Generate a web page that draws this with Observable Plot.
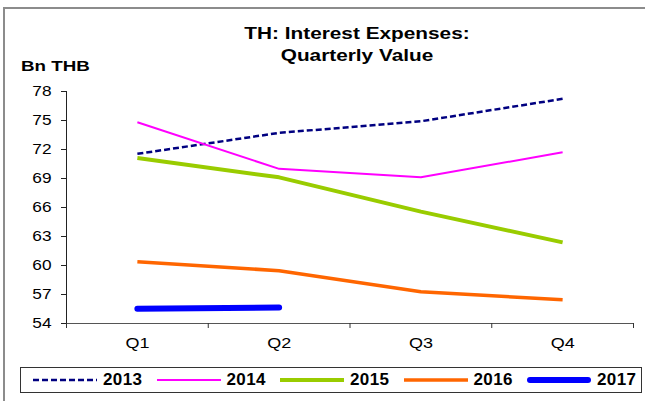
<!DOCTYPE html>
<html>
<head>
<meta charset="utf-8">
<script src="https://cdn.jsdelivr.net/npm/d3@7"></script>
<script src="https://cdn.jsdelivr.net/npm/@observablehq/plot@0.6"></script>
<style>
  html, body { margin: 0; padding: 0; background: #fff; }
  #wrap { position: relative; width: 645px; height: 401px; overflow: hidden; font-family: Arial, "Liberation Sans", sans-serif; color: #000; }
  #frame { position: absolute; left: 3px; top: 7px; width: 700px; height: 450px; border-left: 2px solid #8c8c8c; border-top: 2px solid #8c8c8c; }
  #title { position: absolute; left: 357px; top: 22px; transform: translateX(-50%) scaleX(1.26); text-align: center; font-weight: bold; font-size: 16.5px; line-height: 22px; white-space: nowrap; }
  #unit { position: absolute; left: 21px; top: 57px; transform-origin: left top; transform: scaleX(1.25); font-weight: bold; font-size: 15px; line-height: 17px; white-space: nowrap; }
  #chart { position: absolute; left: 0; top: 0; }
  #legend { position: absolute; left: 20px; top: 367px; width: 622px; height: 26px; box-sizing: border-box; border: 1px solid #333; background: #fff; display: flex; align-items: center; padding-left: 12px; }
  .item { display: flex; align-items: center; width: 123.5px; flex: none; }
  .item svg { flex: none; margin-right: 6px; }
  .item span { font-weight: bold; font-size: 17px; letter-spacing: 0.4px; }
</style>
</head>
<body>
<div id="wrap">
  <div id="frame"></div>
  <div id="chart"></div>
  <div id="title">TH: Interest Expenses:<br>Quarterly Value</div>
  <div id="unit">Bn THB</div>
  <div id="legend"></div>
</div>
<script>
// ---- data ----
const quarters = ["Q1", "Q2", "Q3", "Q4"];
const years = ["2013", "2014", "2015", "2016", "2017"];
const v2013 = [71.55, 73.72, 74.92, 77.24];
const v2014 = [74.82, 70.0, 69.12, 71.71];
const v2015 = [71.13, 69.12, 65.57, 62.39];
const v2016 = [60.39, 59.46, 57.28, 56.45];
const v2017 = [55.52, 55.66];
const yTicks = [54, 57, 60, 63, 66, 69, 72, 75, 78];

// ---- styles ----
const seriesValues = [v2013, v2014, v2015, v2016, v2017];
const colors = ["#000080", "#FF00FF", "#99CC00", "#FF6600", "#0000FF"];
const widths = [2.5, 2, 4, 3.5, 6];
const dashes = ["6,3", null, null, null, null];
const caps = ["butt", "butt", "butt", "butt", "round"];

const rows = years.flatMap((yr, i) =>
  seriesValues[i].map((v, j) => ({ year: yr, q: j + 1, value: v }))
);
const qIdx = quarters.map((_, i) => i + 1);
const bounds = [0.5, ...qIdx.map(i => i + 0.5)];

const marks = [
  Plot.ruleX([0.5], { y1: 54, y2: 78, stroke: "#222", strokeWidth: 1 }),
  Plot.ruleY([54], { stroke: "#555", strokeWidth: 1.2 }),
  Plot.axisY({ ticks: yTicks, tickSize: 5, tickPadding: 10, label: null, stroke: "#222", fontSize: 15 }),
  Plot.axisX({ ticks: bounds, tickSize: 5, tickFormat: () => "", label: null, stroke: "#333" }),
  Plot.axisX({ ticks: qIdx, tickSize: 0, tickPadding: 14, tickFormat: d => quarters[d - 1], label: null, fontSize: 15 })
];
years.forEach((yr, i) => {
  marks.push(Plot.line(rows.filter(d => d.year === yr), {
    x: "q", y: "value",
    stroke: colors[i], strokeWidth: widths[i],
    strokeDasharray: dashes[i] || undefined,
    strokeLinecap: caps[i], strokeLinejoin: "round"
  }));
});

const chart = Plot.plot({
  width: 645,
  height: 401,
  marginLeft: 66,
  marginRight: 12,
  marginTop: 91,
  marginBottom: 78,
  x: { type: "linear", domain: [0.5, 4.5] },
  y: { domain: [54, 78] },
  style: { fontFamily: "Arial, 'Liberation Sans', sans-serif", fontSize: "15px", color: "#000", background: "transparent", overflow: "visible" },
  marks
});
document.getElementById("chart").appendChild(chart);

// widen the tick labels a little, as in the reference
function stretch(sel, k) {
  chart.querySelectorAll(sel).forEach(t => {
    const w = t.getComputedTextLength();
    if (w > 0) {
      t.setAttribute("textLength", (w * k).toFixed(1));
      t.setAttribute("lengthAdjust", "spacingAndGlyphs");
    }
  });
}
stretch('g[aria-label="y-axis tick label"] text', 1.15);
stretch('g[aria-label="x-axis tick label"] text', 1.2);

// ---- legend ----
const legend = document.getElementById("legend");
years.forEach((yr, i) => {
  const item = document.createElement("div");
  item.className = "item";
  const ns = "http://www.w3.org/2000/svg";
  const svg = document.createElementNS(ns, "svg");
  svg.setAttribute("width", 64);
  svg.setAttribute("height", 10);
  const line = document.createElementNS(ns, "line");
  const pad = caps[i] === "round" ? widths[i] / 2 : 0;
  line.setAttribute("x1", pad);
  line.setAttribute("x2", 64 - pad);
  line.setAttribute("y1", 5);
  line.setAttribute("y2", 5);
  line.setAttribute("stroke", colors[i]);
  line.setAttribute("stroke-width", widths[i]);
  line.setAttribute("stroke-linecap", caps[i]);
  if (dashes[i]) line.setAttribute("stroke-dasharray", dashes[i]);
  svg.appendChild(line);
  const span = document.createElement("span");
  span.textContent = yr;
  item.appendChild(svg);
  item.appendChild(span);
  legend.appendChild(item);
});
</script>
</body>
</html>
